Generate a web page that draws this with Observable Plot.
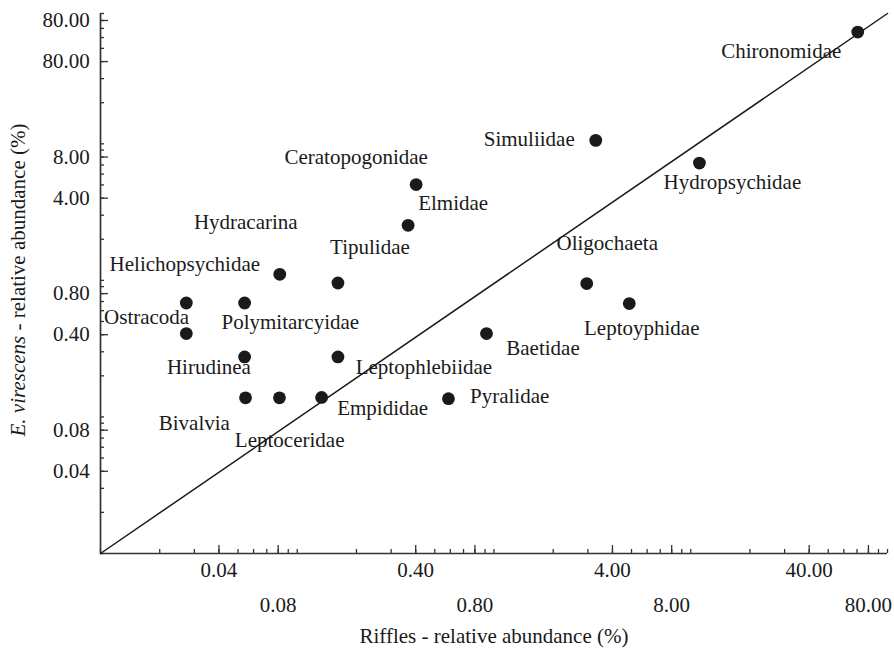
<!DOCTYPE html>
<html><head><meta charset="utf-8">
<script src="https://cdn.jsdelivr.net/npm/d3@7"></script>
<script src="https://cdn.jsdelivr.net/npm/@observablehq/plot@0.6"></script>
<style>html,body{margin:0;padding:0;background:#fff;} svg{display:block}</style>
</head><body><div id="chart"></div>
<script>
// ---- data ----
const taxa = ["Chironomidae","Simuliidae","Hydropsychidae","Ceratopogonidae","Elmidae","Hydracarina","Tipulidae","Oligochaeta","Leptoyphidae","Helichopsychidae","Polymitarcyidae","Ostracoda","Baetidae","Hirudinea","Leptophlebiidae","Bivalvia","Leptoceridae","Empididae","Pyralidae"];
const riffles   = [70.6, 3.29, 11.07, 0.402, 0.366, 0.0815, 0.161, 2.96, 4.87, 0.0273, 0.054, 0.0273, 0.916, 0.054, 0.161, 0.0546, 0.0812, 0.133, 0.587];
const virescens = [65.8, 10.6, 7.23, 5.03, 2.53, 1.108, 0.957, 0.948, 0.676, 0.683, 0.683, 0.408, 0.408, 0.275, 0.275, 0.138, 0.138, 0.139, 0.136];
const xTickValues = [0.04, 0.08, 0.4, 0.8, 4, 8, 40, 80];
const xTickLabels = ["0.04","0.08","0.40","0.80","4.00","8.00","40.00","80.00"];
const yTickValues = [80, 40, 8, 4, 0.8, 0.4, 0.08, 0.04];
const yTickLabels = ["80.00","80.00","8.00","4.00","0.80","0.40","0.08","0.04"];
const xDomain = [0.01, 100];
const yDomain = [0.01, 90];
const xTitle = "Riffles - relative abundance (%)";

// ---- layout / style ----
const W = 894, H = 654;
const M = {top: 13, right: 7, bottom: 101, left: 100};
const frameW = W - M.left - M.right, frameH = H - M.top - M.bottom;
const font = "Liberation Serif";
const ink = "#1a1a1a";
const FS = 21;
// label offsets (px) relative to each dot, text centered
const labelOffset = {
  Chironomidae: [-76.5, 19], Simuliidae: [-66.5, -1], Hydropsychidae: [33, 19],
  Ceratopogonidae: [-60, -27], Elmidae: [45, -22], Hydracarina: [-34, -52.5],
  Tipulidae: [32, -36], Oligochaeta: [20.5, -40], Leptoyphidae: [12.5, 25],
  Helichopsychidae: [-1.5, -38.7], Polymitarcyidae: [45.7, 19.3], Ostracoda: [-39.7, -15.8],
  Baetidae: [56.5, 14.7], Hirudinea: [-35.7, 10.3], Leptophlebiidae: [86, 10.8],
  Bivalvia: [-51.2, 25.8], Leptoceridae: [10.2, 42.7], Empididae: [61, 11.3], Pyralidae: [61.2, -2.2]
};

const points = taxa.map((name, i) => ({name, x: riffles[i], y: virescens[i]}));
const diag = [{x: xDomain[0], y: yDomain[0]}, {x: xDomain[1], y: yDomain[1]}];
const xMinor = d3.scaleLog().domain(xDomain).ticks(40);
const yMinor = d3.scaleLog().domain(yDomain).ticks(40);

const labelMarks = points.map(p => Plot.text([p], {
  x: "x", y: "y", text: "name", dx: labelOffset[p.name][0], dy: labelOffset[p.name][1],
  fontSize: FS, fontFamily: font, fill: ink, textAnchor: "middle"
}));

const plot = Plot.plot({
  width: W, height: H,
  marginTop: M.top, marginRight: M.right, marginBottom: M.bottom, marginLeft: M.left,
  style: {fontFamily: font, fontSize: FS + "px", color: ink, background: "#fff", overflow: "visible"},
  x: {type: "log", domain: xDomain, axis: null},
  y: {type: "log", domain: yDomain, axis: null},
  marks: [
    // inward minor ticks
    Plot.ruleX(xMinor, {x: d => d, insetTop: frameH - 4, stroke: "#333", strokeWidth: 1.3}),
    Plot.ruleX(xTickValues, {x: d => d, insetTop: frameH - 8, stroke: "#333", strokeWidth: 1.3}),
    Plot.ruleY(yMinor, {y: d => d, insetRight: frameW - 4, stroke: "#333", strokeWidth: 1.3}),
    Plot.ruleY(yTickValues, {y: d => d, insetRight: frameW - 8, stroke: "#333", strokeWidth: 1.3}),
    // axis lines
    Plot.ruleX([xDomain[0]], {stroke: "#333", strokeWidth: 1.7}),
    Plot.ruleY([yDomain[0]], {stroke: "#333", strokeWidth: 1.7}),
    // tick labels
    Plot.text(xTickValues, {filter: (d, i) => i % 2 === 0, x: d => d, text: (d, i) => xTickLabels[xTickValues.indexOf(d)],
      frameAnchor: "bottom", dy: 23.5, fontSize: FS, fontFamily: font, fill: ink}),
    Plot.text(xTickValues, {filter: (d, i) => i % 2 === 1, x: d => d, text: (d, i) => xTickLabels[xTickValues.indexOf(d)],
      frameAnchor: "bottom", dy: 58, fontSize: FS, fontFamily: font, fill: ink}),
    Plot.text(yTickValues, {y: d => d, text: (d, i) => yTickLabels[i], frameAnchor: "left", textAnchor: "end",
      dx: -10.7, fontSize: FS, fontFamily: font, fill: ink}),
    // x title
    Plot.text([xTitle], {text: d => d, frameAnchor: "bottom", dy: 89, fontSize: FS, fontFamily: font, fill: ink}),
    // diagonal
    Plot.line(diag, {x: "x", y: "y", stroke: ink, strokeWidth: 1.5}),
    // points
    Plot.dot(points, {x: "x", y: "y", r: 6.4, fill: ink, stroke: "none"}),
    ...labelMarks
  ]
});

// y-axis title with italic species name
const svg = d3.select(plot);
const yt = svg.append("text")
  .attr("transform", `translate(18,${(M.top + H - M.bottom) / 2 - 3}) rotate(-90)`)
  .attr("text-anchor", "middle")
  .attr("dominant-baseline", "central")
  .attr("font-family", font)
  .attr("font-size", FS)
  .attr("fill", ink);
yt.append("tspan").attr("font-style", "italic").text("E. virescens");
yt.append("tspan").text(" - relative abundance (%)");

document.getElementById("chart").appendChild(plot);
</script>
</body></html>
